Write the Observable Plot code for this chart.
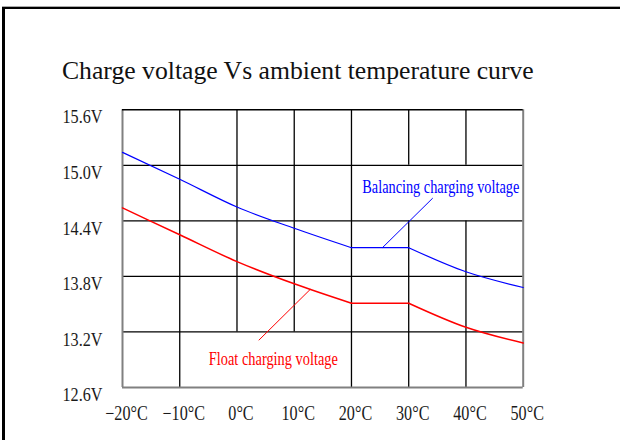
<!DOCTYPE html>
<html><head><meta charset="utf-8">
<script src="https://cdn.jsdelivr.net/npm/d3@7"></script>
<script src="https://cdn.jsdelivr.net/npm/@observablehq/plot@0.6"></script>
<style>
html,body{margin:0;padding:0;background:#fff;}
#wrap{position:relative;width:620px;height:440px;overflow:hidden;background:#fff;font-family:"Liberation Serif",serif;}
#frame{position:absolute;left:2px;top:7px;width:640px;height:460px;border-left:3px solid #000;border-top:2px solid #000;box-shadow:0 -1px 0 #aaa;}
#title{position:absolute;left:61.7px;top:57.5px;font-size:26px;line-height:26px;white-space:nowrap;transform-origin:0 0;color:#111;}
#chart{position:absolute;left:0;top:90px;}
</style></head>
<body><div id="wrap"><div id="frame"></div><div id="title">Charge voltage Vs ambient temperature curve</div><div id="chart"></div></div>
<script>
// ---- data ----
const temps = [-20, -10, 0, 10, 20, 30, 40, 50];
const balancingV = [15.14, 14.85, 14.55, 14.32, 14.11, 14.11, 13.85, 13.68];
const floatV = [14.54, 14.25, 13.96, 13.72, 13.51, 13.51, 13.25, 13.08];
const xTickValues = [-20, -10, 0, 10, 20, 30, 40, 50];
const xTickLabels = ["−20°C", "−10°C", "0°C", "10°C", "20°C", "30°C", "40°C", "50°C"];
const yTickValues = [12.6, 13.2, 13.8, 14.4, 15.0, 15.6];
const yTickLabels = ["12.6V", "13.2V", "13.8V", "14.4V", "15.0V", "15.6V"];
// interior grid segments (the label cells leave some lines out)
const gridVTemp = [-10, 0, 10, 20, 30, 30, 40, 40];
const gridVFrom = [12.6, 13.2, 13.2, 12.6, 12.6, 15.0, 12.6, 15.0];
const gridVTo = [15.6, 15.6, 15.6, 15.6, 14.4, 15.6, 14.4, 15.6];
const gridHVolt = [13.2, 13.8, 14.4, 15.0];
// series labels and their leader lines
const seriesNames = ["Balancing charging voltage", "Float charging voltage"];
const labelTemp = [35.6, 6.35];
const labelVolt = [14.765, 12.90];
const leaderFromTemp = [34.2, 3.8];
const leaderFromVolt = [14.646, 13.11];
const leaderToTemp = [25.4, 12.8];
const leaderToVolt = [14.11, 13.66];

const BLUE = "#0000ff", RED = "#ff0000";
const vSegs = gridVTemp.map((t, i) => ({t, a: gridVFrom[i], b: gridVTo[i]}));
const leaders = leaderFromTemp.map((t, i) => ({x1: t, y1: leaderFromVolt[i], x2: leaderToTemp[i], y2: leaderToVolt[i]}));
const yMin = d3.min(yTickValues), yMax = d3.max(yTickValues);
const xMin = d3.min(xTickValues), xMax = d3.max(xTickValues);

// split a series into pieces at the ends of its flat run, so the corners stay sharp
function pieces(values) {
  const out = [];
  let seg = 0;
  for (let i = 0; i < values.length; i++) {
    out.push({t: temps[i], v: values[i], seg});
    const flatNext = i + 1 < values.length && values[i + 1] === values[i];
    const flatPrev = i > 0 && values[i - 1] === values[i];
    if (i + 1 < values.length && (flatNext !== flatPrev)) {
      seg++;
      out.push({t: temps[i], v: values[i], seg});
    }
  }
  return out;
}
const balPieces = pieces(balancingV);
const floPieces = pieces(floatV);

const chart = Plot.plot({
  width: 620, height: 350,
  marginTop: 19.3, marginBottom: 53, marginLeft: 122, marginRight: 97.3,
  x: {domain: [xMin, xMax]},
  y: {domain: [yMin, yMax]},
  style: {fontFamily: '"Liberation Serif", serif', background: "transparent", color: "#1a1a1a", overflow: "visible"},
  marks: [
    Plot.ruleY(gridHVolt, {y: d => d, stroke: "#000", strokeWidth: 1.3}),
    Plot.ruleX(vSegs, {x: "t", y1: "a", y2: "b", stroke: "#000", strokeWidth: 1.3}),
    Plot.ruleX([xMin, xMax], {x: d => d, stroke: "#808080", strokeWidth: 2}),
    Plot.ruleY([yMin], {y: d => d, stroke: "#808080", strokeWidth: 2}),
    Plot.ruleY([yMax], {y: d => d, stroke: "#000", strokeWidth: 1.5}),
    Plot.line(balPieces, {x: "t", y: "v", z: "seg", curve: "monotone-x", stroke: BLUE, strokeWidth: 1.2}),
    Plot.line(floPieces, {x: "t", y: "v", z: "seg", curve: "monotone-x", stroke: RED, strokeWidth: 1.5}),
    Plot.link([leaders[0]], {x1: "x1", y1: "y1", x2: "x2", y2: "y2", stroke: BLUE, strokeWidth: 1}),
    Plot.link([leaders[1]], {x1: "x1", y1: "y1", x2: "x2", y2: "y2", stroke: RED, strokeWidth: 1}),
    Plot.text([seriesNames[0]], {x: labelTemp[0], y: labelVolt[0], text: d => d, fill: BLUE, fontSize: 18}),
    Plot.text([seriesNames[1]], {x: labelTemp[1], y: labelVolt[1], text: d => d, fill: RED, fontSize: 18}),
    Plot.axisY(yTickValues, {tickSize: 0, tickPadding: 20, dy: 7.6, fontSize: 19,
      tickFormat: d => yTickLabels[yTickValues.indexOf(d)]}),
    Plot.axisX(xTickValues, {tickSize: 0, tickPadding: 18, dx: 4, fontSize: 20,
      tickFormat: d => xTickLabels[xTickValues.indexOf(d)]})
  ]
});
document.getElementById("chart").append(chart);

// condense the glyphs like the narrow original type
const texts = Array.from(chart.querySelectorAll("text"));
let kx = 0.81;
const ref20 = texts.find(t => t.textContent === "20°C");
if (ref20) kx = 33.4 / ref20.getComputedTextLength();
for (const t of texts) {
  const s = t.textContent;
  let target = null;
  if (yTickLabels.includes(s)) target = 40;
  else if (xTickLabels.includes(s)) target = t.getComputedTextLength() * kx;
  else if (s === seriesNames[0]) target = 157;
  else if (s === seriesNames[1]) target = 129;
  if (target) {
    t.setAttribute("textLength", target);
    t.setAttribute("lengthAdjust", "spacingAndGlyphs");
  }
}
const title = document.getElementById("title");
title.style.transform = `scaleX(${472 / title.offsetWidth})`;
</script>
</body></html>
